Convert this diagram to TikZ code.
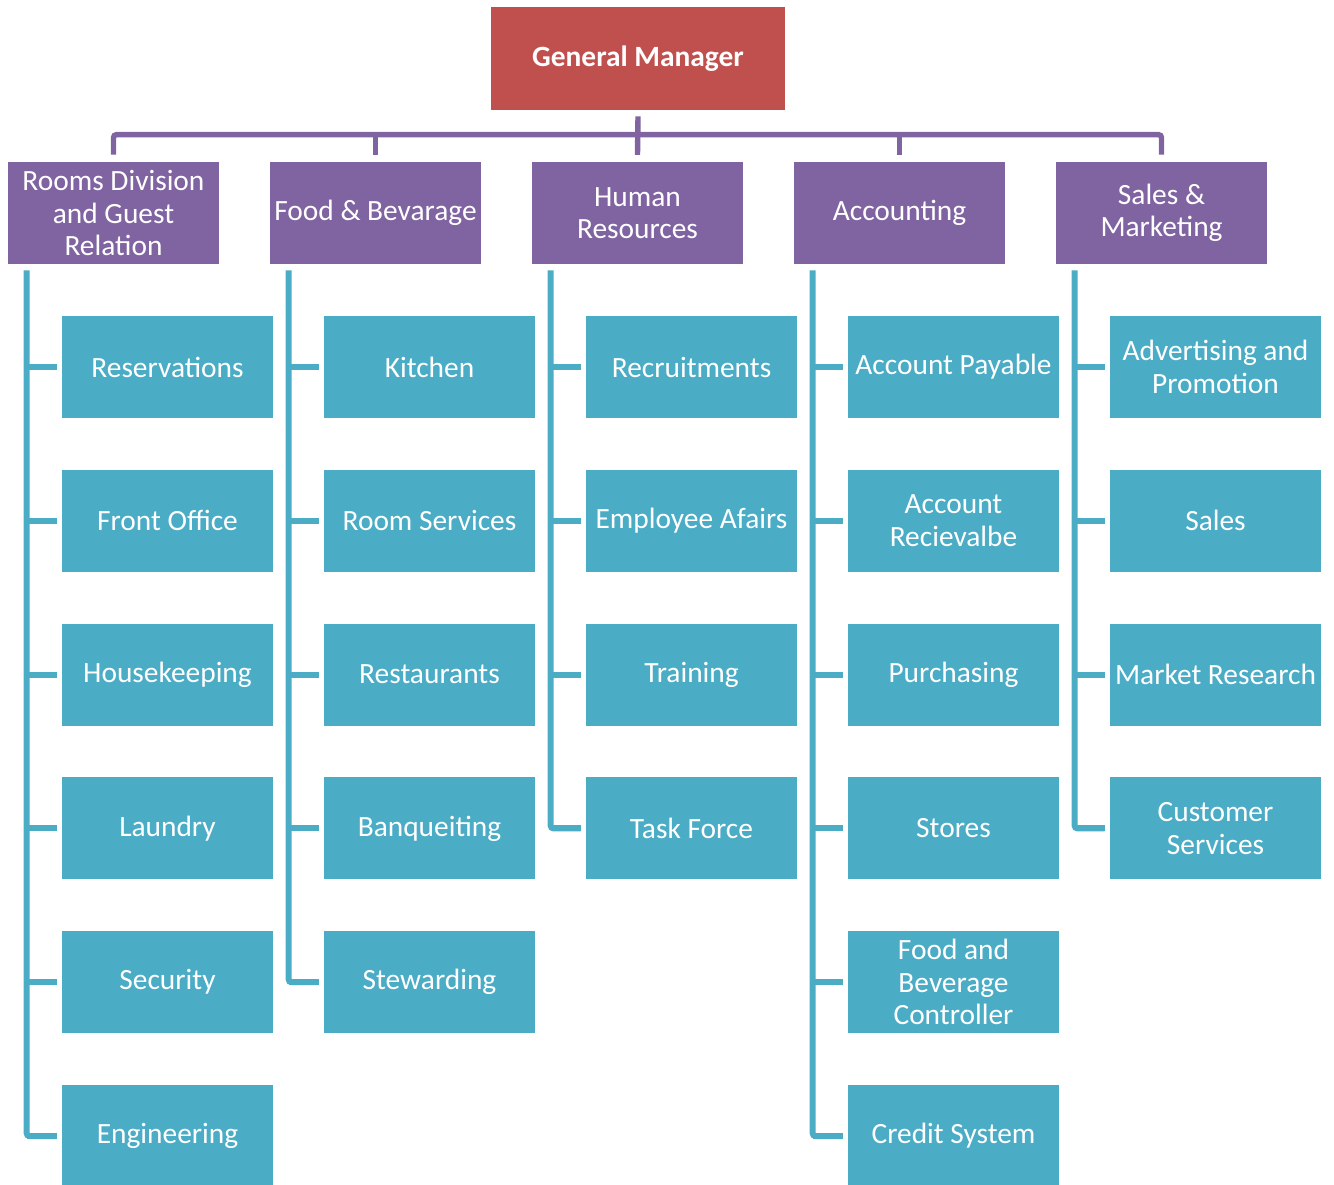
\documentclass[tikz,border=0pt]{standalone}
\usepackage{fontspec}
\setmainfont{Carlito}
\definecolor{gmred}{HTML}{C0504D}
\definecolor{headpurple}{HTML}{8064A2}
\definecolor{itemteal}{HTML}{4BACC6}
\tikzset{
  box/.style={rectangle, text=white, align=center, inner sep=0pt,
    font=\fontsize{14.7}{16.3}\selectfont},
  gmbox/.style={box, fill=gmred, minimum width=147pt, minimum height=51.5pt,
    font=\fontsize{14.7}{16.3}\selectfont\bfseries},
  headbox/.style={box, fill=headpurple, minimum width=105.5pt, minimum height=51pt},
  itembox/.style={box, fill=itemteal, minimum width=105.5pt, minimum height=51pt},
  busline/.style={headpurple, line width=2.7pt, rounded corners=1.5pt},
  tealline/.style={itemteal, line width=3pt, rounded corners=1.5pt}
}
\begin{document}
\begin{tikzpicture}[x=0.5pt,y=-0.5pt]
  \useasboundingbox (0,0) rectangle (1334,1184);
  \node[gmbox] (gm) at (638,58.5) {General Manager};
  % departments
  \foreach \i/\lbl in {1/{Rooms Division\\and Guest\\Relation}, 2/{Food \& Bevarage},
      3/{Human\\Resources}, 4/{Accounting}, 5/{Sales \&\\Marketing}}
    \node[headbox] (h\i) at ({113.5+262*(\i-1)},213) {\lbl};
  % sections
  \foreach \i/\k/\lbl in {1/1/Reservations, 1/2/Front Office, 1/3/Housekeeping,
      1/4/Laundry, 1/5/Security, 1/6/Engineering,
      2/1/Kitchen, 2/2/Room Services, 2/3/Restaurants, 2/4/Banqueiting, 2/5/Stewarding,
      3/1/Recruitments, 3/2/Employee Afairs, 3/3/Training, 3/4/Task Force,
      4/1/Account Payable, 4/2/{Account\\Recievalbe}, 4/3/Purchasing, 4/4/Stores,
      4/5/{Food and\\Beverage\\Controller}, 4/6/Credit System,
      5/1/{Advertising and\\Promotion}, 5/2/Sales, 5/3/Market Research,
      5/4/{Customer\\Services}}
  {
    \node[itembox] (c\i-\k) at ({167.5+262*(\i-1)},{367+153.8*(\k-1)}) {\lbl};
    \draw[tealline] ([xshift=-17.5pt]c\i-\k.west) -- ([xshift=-2.5pt]c\i-\k.west);
  }
  % spines
  \foreach \i/\n in {1/6, 2/5, 3/4, 4/6, 5/4}
    \draw[tealline] ([xshift=9.5pt,yshift=-3pt]h\i.south west) |- ([xshift=-2.5pt]c\i-\n.west);
  % bus
  \draw[busline] ([yshift=3.5pt]h1.north) -- ([yshift=13.5pt]h1.north)
    -- ([yshift=13.5pt]h5.north) -- ([yshift=3.5pt]h5.north);
  \foreach \i in {2,3,4}
    \draw[busline] ([yshift=13.5pt]h\i.north) -- ([yshift=3.5pt]h\i.north);
  \draw[busline] ([yshift=-3pt]gm.south) -- ([yshift=3.5pt]h3.north);
\end{tikzpicture}
\end{document}
